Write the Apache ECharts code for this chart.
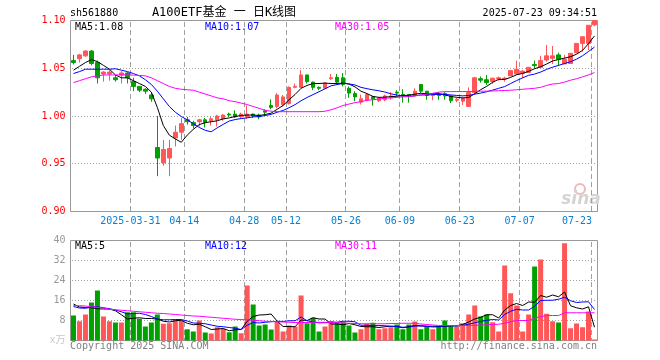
<!DOCTYPE html>
<html><head><meta charset="utf-8">
<script src="https://cdn.jsdelivr.net/npm/echarts@6/dist/echarts.min.js"></script>
<style>html,body{margin:0;padding:0;background:#fff}#c{width:660px;height:360px}</style>
</head><body><div id="c"></div>
<script>
const dates = ['2025-03-17','2025-03-18','2025-03-19','2025-03-20','2025-03-21','2025-03-24','2025-03-25','2025-03-26','2025-03-27','2025-03-28',
'2025-03-31','2025-04-01','2025-04-02','2025-04-03','2025-04-07','2025-04-08','2025-04-09','2025-04-10','2025-04-11','2025-04-14',
'2025-04-15','2025-04-16','2025-04-17','2025-04-18','2025-04-21','2025-04-22','2025-04-23','2025-04-24','2025-04-25','2025-04-28',
'2025-04-29','2025-04-30','2025-05-06','2025-05-07','2025-05-08','2025-05-09','2025-05-12','2025-05-13','2025-05-14','2025-05-15',
'2025-05-16','2025-05-19','2025-05-20','2025-05-21','2025-05-22','2025-05-23','2025-05-26','2025-05-27','2025-05-28','2025-05-29',
'2025-05-30','2025-06-03','2025-06-04','2025-06-05','2025-06-06','2025-06-09','2025-06-10','2025-06-11','2025-06-12','2025-06-13',
'2025-06-16','2025-06-17','2025-06-18','2025-06-19','2025-06-20','2025-06-23','2025-06-24','2025-06-25','2025-06-26','2025-06-27',
'2025-06-30','2025-07-01','2025-07-02','2025-07-03','2025-07-04','2025-07-07','2025-07-08','2025-07-09','2025-07-10','2025-07-11',
'2025-07-14','2025-07-15','2025-07-16','2025-07-17','2025-07-18','2025-07-21','2025-07-22','2025-07-23'];

const tickDates = ['2025-03-31','2025-04-14','2025-04-28','2025-05-12','2025-05-26','2025-06-09','2025-06-23','2025-07-07','2025-07-23'];
const priceTicks = [0.95, 1.00, 1.05];
const volTicks = [8, 16, 24, 32];

const opens = [1.058,1.060,1.063,1.068,1.056,1.044,1.044,1.040,1.043,1.045,
1.036,1.031,1.028,1.022,0.967,0.951,0.956,0.977,0.983,0.996,
0.993,0.994,0.996,0.995,0.996,0.997,1.002,1.002,0.999,0.999,
1.002,1.001,1.0055,1.011,1.010,1.012,1.013,1.030,1.030,1.043,
1.0355,1.030,1.029,1.039,1.0405,1.040,1.029,1.0235,1.0145,1.0165,
1.020,1.016,1.017,1.019,1.025,1.0225,1.0225,1.0215,1.033,1.026,
1.0215,1.0225,1.0235,1.021,1.0165,1.0155,1.010,1.0245,1.039,1.038,
1.036,1.039,1.039,1.042,1.044,1.0448,1.0455,1.054,1.051,1.0587,
1.0604,1.064,1.0545,1.055,1.0663,1.076,1.076,1.0955];

const closes = [1.056,1.064,1.068,1.055,1.040,1.046,1.046,1.038,1.045,1.040,
1.031,1.027,1.026,1.018,0.956,0.965,0.966,0.983,0.992,0.994,
0.990,0.996,0.993,0.997,1.000,1.001,1.001,0.999,1.002,1.002,
1.000,0.999,1.004,1.009,1.022,1.020,1.030,1.031,1.043,1.036,
1.030,1.029,1.0345,1.040,1.0355,1.033,1.024,1.020,1.018,1.0224,
1.018,1.019,1.021,1.021,1.024,1.022,1.021,1.026,1.026,1.0215,
1.022,1.0215,1.021,1.016,1.0175,1.0185,1.0245,1.040,1.0375,1.035,
1.0396,1.040,1.0396,1.0476,1.049,1.047,1.051,1.0528,1.058,1.063,
1.063,1.0594,1.0594,1.0656,1.076,1.083,1.095,1.100];

const lows = [1.054,1.056,1.062,1.053,1.034,1.036,1.037,1.036,1.034,1.034,
1.026,1.025,1.023,1.015,0.937,0.948,0.937,0.968,0.975,0.991,
0.987,0.989,0.988,0.990,0.989,0.995,0.999,0.998,0.998,0.997,
0.998,0.9965,1.001,1.007,1.008,1.010,1.012,1.029,1.030,1.034,
1.027,1.027,1.029,1.038,1.034,1.031,1.019,1.0155,1.012,1.0155,
1.011,1.0145,1.0155,1.017,1.021,1.014,1.014,1.0205,1.024,1.017,
1.0165,1.017,1.017,1.0135,1.0145,1.0115,1.010,1.0225,1.035,1.0326,
1.0337,1.037,1.036,1.042,1.043,1.0396,1.045,1.050,1.051,1.057,
1.0545,1.0526,1.0545,1.0545,1.0656,1.0674,1.069,1.094];

const highs = [1.064,1.065,1.069,1.069,1.058,1.047,1.048,1.043,1.047,1.046,
1.040,1.031,1.029,1.024,1.000,0.975,0.975,0.990,0.998,0.999,
0.995,0.997,0.998,0.999,1.001,1.002,1.0035,1.006,1.0035,1.011,
1.0025,1.0025,1.007,1.0175,1.024,1.022,1.031,1.034,1.048,1.043,
1.036,1.031,1.035,1.044,1.044,1.045,1.031,1.026,1.0224,1.024,
1.021,1.020,1.0224,1.025,1.027,1.028,1.023,1.029,1.033,1.026,
1.0235,1.025,1.025,1.022,1.019,1.020,1.030,1.041,1.0413,1.043,
1.040,1.0413,1.041,1.048,1.058,1.048,1.051,1.058,1.063,1.0744,
1.0733,1.0663,1.064,1.0656,1.076,1.083,1.095,1.100];

const ma5 = [1.048,1.052,1.056,1.059,1.057,1.053,1.049,1.043,1.040,1.040,
1.037,1.034,1.031,1.025,1.009,0.990,0.980,0.976,0.9725,0.980,
0.986,0.991,0.993,0.994,0.995,0.997,0.998,0.9995,1.0005,1.001,
1.001,1.0005,1.0015,1.003,1.007,1.011,1.017,1.0225,1.029,1.032,
1.034,1.034,1.0345,1.034,1.034,1.0345,1.0335,1.0305,1.026,1.0235,
1.0205,1.0195,1.0197,1.0203,1.0206,1.0214,1.0218,1.0228,1.0238,1.0233,
1.0233,1.0234,1.0224,1.0204,1.0196,1.0189,1.0195,1.0233,1.0276,1.0311,
1.0353,1.0384,1.0383,1.0404,1.0432,1.0446,1.0468,1.0495,1.0516,1.0544,
1.0576,1.0592,1.0606,1.0621,1.0647,1.0687,1.0758,1.0839];

const ma10 = [1.0445,1.0465,1.049,1.049,1.049,1.049,1.049,1.0495,1.048,1.0465,
1.0445,1.042,1.038,1.033,1.026,1.018,1.010,1.004,0.9995,0.996,
0.992,0.988,0.985,0.9835,0.9876,0.9912,0.9947,0.9963,0.9973,0.9981,
0.9991,0.9994,1.0005,1.0017,1.0039,1.0058,1.0087,1.0119,1.016,1.0194,
1.0224,1.0254,1.0285,1.0316,1.0329,1.0342,1.0336,1.0325,1.030,1.0286,
1.0274,1.0264,1.0251,1.0232,1.022,1.0209,1.0206,1.0212,1.022,1.022,
1.0224,1.0226,1.0226,1.0221,1.0215,1.0211,1.0215,1.0229,1.024,1.0254,
1.0271,1.029,1.0308,1.034,1.0371,1.040,1.0426,1.0439,1.046,1.0488,
1.0511,1.053,1.055,1.0568,1.0595,1.0631,1.0675,1.0722];

const ma30 = [1.035,1.037,1.039,1.041,1.042,1.043,1.043,1.043,1.043,1.043,
1.0428,1.0425,1.042,1.040,1.037,1.034,1.031,1.029,1.028,1.0275,
1.027,1.025,1.023,1.021,1.019,1.018,1.016,1.015,1.0135,1.012,
1.010,1.008,1.006,1.005,1.0045,1.0045,1.0045,1.0045,1.0045,1.0045,
1.0045,1.0045,1.005,1.0065,1.0085,1.011,1.0125,1.014,1.015,1.0165,
1.017,1.0178,1.0185,1.019,1.0195,1.020,1.0205,1.021,1.022,1.023,
1.0238,1.025,1.0255,1.0255,1.0256,1.0256,1.0256,1.0258,1.026,1.026,
1.0262,1.0265,1.0267,1.027,1.0275,1.028,1.0285,1.029,1.030,1.032,
1.0335,1.034,1.0355,1.0375,1.039,1.041,1.043,1.0455];

const vols = [10.0,7.7,10.4,15.2,20.0,9.6,7.7,7.2,7.2,11.3,
11.3,8.7,5.6,7.2,10.4,6.7,6.9,8.3,8.0,4.5,
3.6,8.0,3.2,2.8,5.3,4.7,3.3,5.6,2.9,22.0,
14.4,6.0,6.4,4.4,7.7,3.6,6.0,5.6,18.0,6.9,
9.1,3.6,5.6,7.7,7.2,7.3,6.0,3.2,4.5,6.7,
7.1,4.5,4.9,5.3,6.4,4.5,6.4,7.6,4.5,5.6,
4.5,5.6,8.0,5.9,5.6,6.9,10.4,14.0,9.6,10.4,
7.3,3.6,30.0,18.9,14.0,3.6,10.4,29.6,32.4,10.7,
7.7,7.2,38.9,4.9,6.8,5.3,11.6,0.4];

const volMa5 = [14.6,13.4,13.2,13.1,12.7,12.6,12.6,11.9,10.3,8.6,
8.9,9.1,8.8,8.8,8.6,7.7,7.4,7.9,8.1,6.9,
6.3,6.5,5.5,4.4,4.6,4.8,3.9,4.3,4.4,7.7,
9.6,10.2,10.3,10.6,7.8,5.6,5.6,5.5,8.2,8.0,
9.1,8.6,8.6,6.6,6.6,6.3,6.8,6.3,5.6,5.5,
5.5,5.2,5.5,5.7,5.6,5.1,5.5,6.0,5.9,5.7,
5.7,5.6,5.6,5.9,5.9,6.4,7.4,8.6,9.3,10.3,
10.3,9.0,12.2,14.0,14.8,14.0,15.4,15.3,18.0,17.3,
18.2,17.5,19.4,13.9,13.1,12.6,13.5,5.3];

const volMa10 = [13.6,13.0,12.9,13.4,13.5,13.1,12.7,12.2,11.5,10.6,
10.8,10.9,10.4,9.6,8.6,8.3,8.3,8.4,8.4,7.8,
7.0,6.9,6.7,6.2,5.7,5.5,5.2,4.9,4.4,6.1,
7.2,7.0,7.3,7.5,7.7,7.6,7.9,7.9,9.4,7.9,
7.4,7.1,7.1,7.4,7.3,7.7,7.7,7.5,6.1,6.1,
5.9,6.0,5.9,5.7,5.6,5.3,5.4,5.8,5.8,5.7,
5.4,5.5,5.8,5.9,5.8,6.1,6.5,7.1,7.6,8.1,
8.4,8.2,10.4,11.7,12.5,12.2,12.2,13.7,16.0,16.1,
16.1,16.5,17.3,15.9,15.2,15.4,15.5,12.4];

const volMa30 = [14.0,13.9,13.8,13.5,13.3,13.0,12.5,12.3,12.1,11.9,
11.7,11.5,11.3,11.1,10.9,10.8,10.6,10.4,10.2,10.0,
9.8,9.7,9.5,9.3,9.1,8.9,8.7,8.5,8.4,8.3,
8.1,7.9,7.7,7.6,7.5,7.4,7.3,7.2,7.2,7.2,
7.3,7.3,7.3,7.2,7.1,7.0,6.9,6.8,6.7,6.7,
6.7,6.7,6.7,6.8,6.8,6.9,6.9,6.9,6.6,6.4,
6.2,6.0,6.0,6.0,6.0,6.0,6.0,6.1,6.2,6.3,
6.4,6.5,6.9,7.5,8.0,8.0,8.0,9.0,9.5,10.0,
10.0,10.0,11.1,11.1,11.1,11.1,11.1,11.1];

const RED = '#ff5757', GREEN = '#00a000';
const MONO = 'DejaVu Sans Mono';
const GRIDC = '#a0a0a0';

const kData = dates.map((d, i) => [opens[i], closes[i], lows[i], highs[i]]);
const volData = vols.map((v, i) => ({ value: v, itemStyle: { color: closes[i] >= opens[i] ? RED : GREEN } }));
const isTick = (idx) => tickDates.indexOf(dates[idx]) >= 0;
const lastIdx = dates.length - 1;
const tickIdx = dates.map((d, i) => i).filter((i) => isTick(i));

// grid line renderers working through the axes' own scales
function vDashRender(params, api) {
  const cs = params.coordSys;
  const c = api.coord([api.value(0), api.value(1)]);
  const w = api.size([1, 0])[0];
  const x = Math.floor(c[0] - w / 2);
  const bottom = Math.floor(cs.y + cs.height);
  const children = [];
  for (let y = Math.ceil(cs.y) + 1; y < bottom; y += 8) {
    children.push({ type: 'rect', silent: true, shape: { x: x, y: y, width: 1, height: Math.min(5, bottom - y) }, style: { fill: GRIDC } });
  }
  return { type: 'group', children: children };
}
function hDotRender(params, api) {
  const cs = params.coordSys;
  const y = Math.floor(api.coord([0, api.value(1)])[1]);
  const right = Math.floor(cs.x + cs.width);
  const children = [];
  for (let x = Math.ceil(cs.x) + 1; x < right; x += 3) {
    children.push({ type: 'rect', silent: true, shape: { x: x, y: y, width: 1, height: 1 }, style: { fill: GRIDC } });
  }
  return { type: 'group', children: children };
}

const chart = echarts.init(document.getElementById('c'), null, { renderer: 'canvas' });

function txt(text, x, y, color, align, font) {
  return { type: 'text', x: x, y: y, silent: true, z: 50,
    style: { text: text, fill: color, font: font || ('10px ' + MONO), align: align || 'left', verticalAlign: 'middle', textAlign: align || 'left', textVerticalAlign: 'middle' } };
}

const gridSeries = (xi, yi, vData, hData) => [
  { type: 'custom', xAxisIndex: xi, yAxisIndex: yi, data: vData, renderItem: vDashRender, silent: true, z: 1, clip: false, encode: { x: 0, y: 1 } },
  { type: 'custom', xAxisIndex: xi, yAxisIndex: yi, data: hData, renderItem: hDotRender, silent: true, z: 1, clip: false, encode: { x: 0, y: 1 } }
];

chart.setOption({
  animation: false,
  backgroundColor: '#fff',
  grid: [
    { left: 70.5, top: 20.5, width: 527, height: 191, show: true, borderColor: '#999', borderWidth: 1, backgroundColor: 'rgba(0,0,0,0)' },
    { left: 70.5, top: 240.5, width: 527, height: 100, show: true, borderColor: '#999', borderWidth: 1, backgroundColor: 'rgba(0,0,0,0)' }
  ],
  xAxis: [
    { type: 'category', gridIndex: 0, data: dates, boundaryGap: true,
      axisLine: { show: false }, axisTick: { show: false }, splitLine: { show: false },
      axisLabel: { interval: (idx) => isTick(idx), margin: 5, fontFamily: MONO, fontSize: 10, color: '#0a80d0',
        formatter: (v, idx) => {
          if (idx === lastIdx) return '{l|' + v.slice(5) + '}';
          if (v === tickDates[0]) return '{c|' + v + '}';
          return '{c|' + v.slice(5) + '}';
        },
        rich: {
          c: { fontFamily: MONO, fontSize: 10, color: '#0a80d0', padding: [0, 6, 0, 0] },
          l: { fontFamily: MONO, fontSize: 10, color: '#0a80d0', padding: [0, 35, 0, 0] }
        }
      } },
    { type: 'category', gridIndex: 1, data: dates, boundaryGap: true,
      axisLine: { show: false }, axisTick: { show: false }, axisLabel: { show: false }, splitLine: { show: false } }
  ],
  yAxis: [
    { type: 'value', gridIndex: 0, min: 0.90, max: 1.10, interval: 0.05,
      axisLine: { show: false }, axisTick: { show: false }, splitLine: { show: false },
      axisLabel: { color: '#ff0000', fontFamily: MONO, fontSize: 10, margin: 5, formatter: (v) => v.toFixed(2) } },
    { type: 'value', gridIndex: 1, min: 0, max: 40, interval: 8,
      axisLine: { show: false }, axisTick: { show: false }, splitLine: { show: false },
      axisLabel: { color: '#999', fontFamily: MONO, fontSize: 10, margin: 5,
        formatter: (v) => v === 0 ? '{u|x万}' : String(v),
        rich: { u: { color: '#c8c8c8', fontSize: 10, fontFamily: MONO + ', Noto Sans CJK SC' } } } }
  ],
  series: gridSeries(0, 0, tickIdx.map((i) => [i, 1.0]), priceTicks.map((v) => [0, v]))
    .concat(gridSeries(1, 1, tickIdx.map((i) => [i, 20]), volTicks.map((v) => [0, v])))
    .concat([
    { type: 'candlestick', xAxisIndex: 0, yAxisIndex: 0, data: kData, barWidth: 4, z: 3,
      itemStyle: { color: RED, color0: GREEN, borderColor: RED, borderColor0: GREEN, borderWidth: 1 } },
    { type: 'line', xAxisIndex: 0, yAxisIndex: 0, data: ma5, symbol: 'none', silent: true, z: 4, lineStyle: { width: 1, color: '#000' }, itemStyle: { color: '#000' } },
    { type: 'line', xAxisIndex: 0, yAxisIndex: 0, data: ma10, symbol: 'none', silent: true, z: 4, lineStyle: { width: 1, color: '#0000ff' }, itemStyle: { color: '#0000ff' } },
    { type: 'line', xAxisIndex: 0, yAxisIndex: 0, data: ma30, symbol: 'none', silent: true, z: 4, lineStyle: { width: 1, color: '#ff00ff' }, itemStyle: { color: '#ff00ff' } },
    { type: 'bar', xAxisIndex: 1, yAxisIndex: 1, data: volData, barWidth: 5, z: 3 },
    { type: 'line', xAxisIndex: 1, yAxisIndex: 1, data: volMa5, symbol: 'none', silent: true, z: 4, lineStyle: { width: 1, color: '#000' }, itemStyle: { color: '#000' } },
    { type: 'line', xAxisIndex: 1, yAxisIndex: 1, data: volMa10, symbol: 'none', silent: true, z: 4, lineStyle: { width: 1, color: '#0000ff' }, itemStyle: { color: '#0000ff' } },
    { type: 'line', xAxisIndex: 1, yAxisIndex: 1, data: volMa30, symbol: 'none', silent: true, z: 4, lineStyle: { width: 1, color: '#ff00ff' }, itemStyle: { color: '#ff00ff' } }
  ]),
  graphic: [
    txt('sh561880', 70, 13, '#000'),
    txt('A100ETF基金 一 日K线图', 224, 13, '#000', 'center', '12px ' + MONO + ', "Noto Sans CJK SC"'),
    txt('2025-07-23 09:34:51', 597, 13, '#000', 'right'),
    txt('MA5:1.08', 75, 27, '#000'),
    txt('MA10:1.07', 205, 27, '#0000ff'),
    txt('MA30:1.05', 335, 27, '#ff00ff'),
    txt('MA5:5', 75, 246, '#000'),
    txt('MA10:12', 205, 246, '#0000ff'),
    txt('MA30:11', 335, 246, '#ff00ff'),
    txt('Copyright 2025 SINA.COM', 70, 346, '#808080'),
    txt('http://finance.sina.com.cn', 597, 346, '#808080', 'right'),
    { type: 'circle', silent: true, z: 1, shape: { cx: 580, cy: 189, r: 5 }, style: { fill: 'none', stroke: '#f2b8b8', lineWidth: 2 } },
    { type: 'text', x: 581, y: 200, silent: true, z: 1, style: { text: 'sina', fill: '#d4d4d4', font: 'italic bold 17px "DejaVu Sans"', align: 'center', verticalAlign: 'middle', textAlign: 'center', textVerticalAlign: 'middle' } }
  ]
});
</script>
</body></html>
